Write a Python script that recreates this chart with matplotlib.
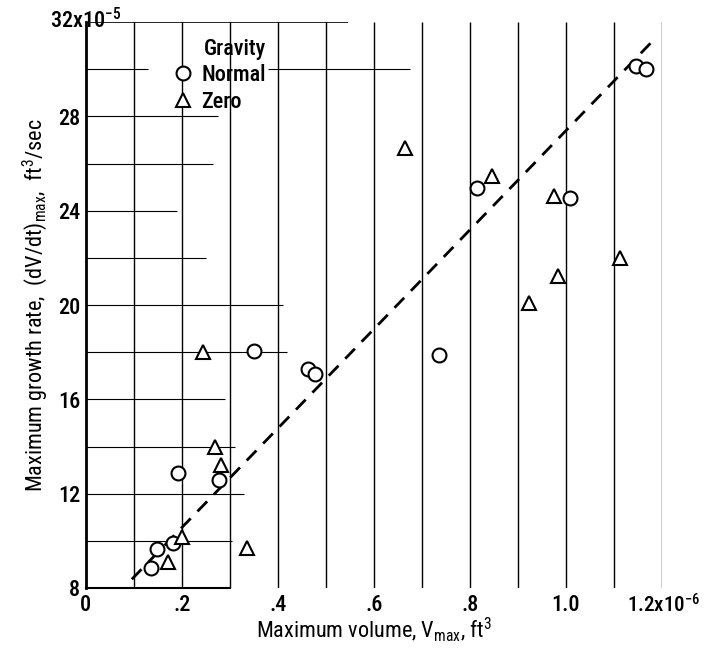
import numpy as np
import matplotlib
matplotlib.use('Agg')
from matplotlib import pyplot as plt

plt.rcParams['font.family'] = ['Roboto Condensed', 'DejaVu Sans']
plt.rcParams['font.weight'] = 'medium'
plt.rcParams['mathtext.fontset'] = 'custom'
plt.rcParams['mathtext.rm'] = 'Roboto Condensed:medium'
plt.rcParams['mathtext.it'] = 'Roboto Condensed:medium'
plt.rcParams['mathtext.default'] = 'regular'

# volume in units of 1e-6 ft^3, growth rate in units of 1e-5 ft^3/sec
normal_x = [0.135, 0.148, 0.181, 0.192, 0.278, 0.351, 0.4625, 0.478, 0.737, 0.816, 1.009, 1.146, 1.167]
normal_y = [8.83, 9.66, 9.92, 12.86, 12.6, 18.06, 17.28, 17.07, 17.88, 24.97, 24.55, 30.15, 30.0]

zero_x = [0.172, 0.2, 0.244, 0.269, 0.282, 0.335, 0.665, 0.846, 0.924, 0.976, 0.983, 1.113]
zero_y = [9.09, 10.15, 18.0, 14.0, 13.2, 9.68, 26.67, 25.48, 20.1, 24.63, 21.24, 22.0]

fit_x = [0.096, 1.186]
fit_y = [8.37, 31.3]

x_ticks = [0, 0.2, 0.4, 0.6, 0.8, 1.0, 1.2]
x_labels = ['0', '.2', '.4', '.6', '.8', '1.0', '']
y_ticks = [8, 12, 16, 20, 24, 28, 32]
y_labels = ['8', '12', '16', '20', '24', '28', '']

# partial horizontal grid lines (y, x end)
hgrid_y = [10, 12, 14, 16, 18, 20, 22, 24, 26, 28]
hgrid_end = [0.305, 0.33, 0.31, 0.29, 0.42, 0.41, 0.25, 0.19, 0.265, 0.275]

fig = plt.figure(figsize=(7.06, 6.49), dpi=100)
ax = fig.add_axes([0.1214, 0.094, 0.8159, 0.872])
ax.set_xlim(0, 1.2)
ax.set_ylim(8, 32)

ax.vlines(np.arange(0.1, 1.21, 0.1), 8, 32, color='black', lw=1.0, zorder=1)
ax.hlines(hgrid_y, 0, hgrid_end, color='black', lw=0.8, zorder=1)
ax.hlines([30, 30], [0, 0.38], [0.13, 0.675], color='black', lw=0.8, zorder=1)
ax.hlines(32, 0, 0.546, color='black', lw=1.2, zorder=1)

ax.plot(fit_x, fit_y, color='black', lw=2, dashes=(5, 3.5), zorder=2)
ax.plot(normal_x, normal_y, 'o', ms=10, mfc='white', mec='black', mew=1.5, ls='none', zorder=3, label='Normal')
ax.plot(zero_x, zero_y, '^', ms=10, mfc='white', mec='black', mew=1.5, ls='none', zorder=3, label='Zero')

for s in ['top', 'right']:
    ax.spines[s].set_visible(False)
ax.spines['left'].set_linewidth(2)
ax.spines['bottom'].set_linewidth(1.5)
ax.spines['bottom'].set_bounds(0, 0.3)

ax.set_xticks(x_ticks, labels=x_labels)
ax.set_yticks(y_ticks, labels=y_labels)
ax.tick_params(length=0, labelsize=16, pad=4)

ax.annotate('1.2x10$^{-6}$', xy=(1.2, 8), xytext=(-25, -4), textcoords='offset points',
            ha='left', va='top', fontsize=15)
ax.annotate('32x10$^{-5}$', xy=(0, 32), xytext=(-26, 1), textcoords='offset points',
            ha='left', va='center', fontsize=16)

ax.set_xlabel('Maximum volume, V$_{max}$, ft$^3$', fontsize=16, labelpad=0)
ax.set_ylabel('Maximum growth rate,  (dV/dt)$_{max}$,  ft$^3$/sec', fontsize=16, labelpad=6)

leg = ax.legend(loc='upper left', bbox_to_anchor=(0.12, 1.0), title='Gravity', frameon=False,
                fontsize=16, title_fontsize=16, handletextpad=0.3, handlelength=1.1,
                borderpad=0.2, labelspacing=0.2)
leg._legend_box.align = 'right'

fig.savefig('out.png', dpi=100)
